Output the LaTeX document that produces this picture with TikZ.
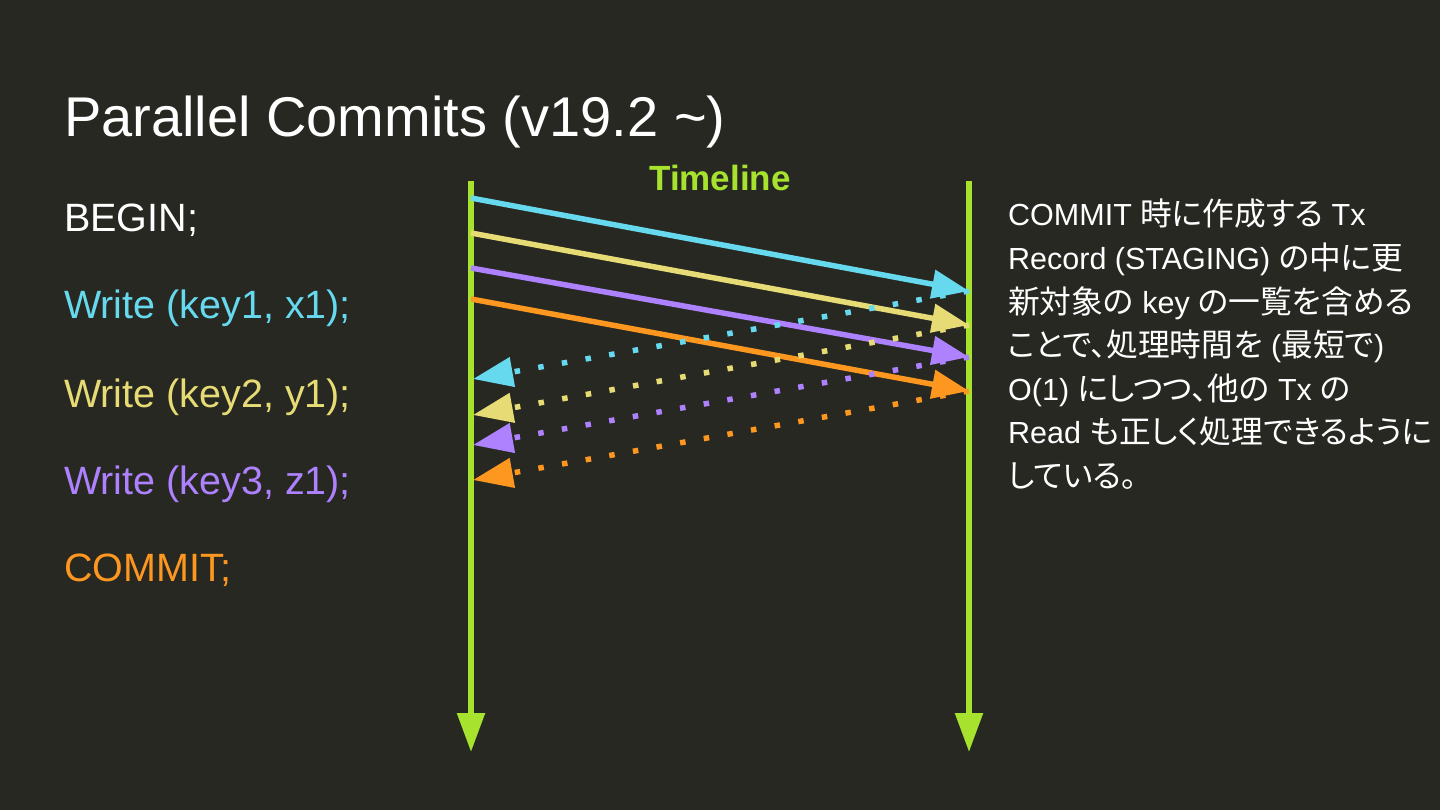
\documentclass[tikz,border=0pt]{standalone}
\usepackage{fontspec}
\setmainfont{Liberation Sans}
\newfontfamily\jp[Scale=1.04,RawFeature=+palt]{Noto Sans CJK JP}
\usetikzlibrary{arrows.meta}
\definecolor{bg}{HTML}{272822}
\definecolor{mcyan}{HTML}{66D9EF}
\definecolor{myellow}{HTML}{E6DB74}
\definecolor{mpurple}{HTML}{AE81FF}
\definecolor{morange}{HTML}{FD971F}
\definecolor{mgreen}{HTML}{A6E22E}
\begin{document}
\begin{tikzpicture}[x=1pt,y=-1pt,
  tl/.style={line width=5.5pt, draw=mgreen, -{Triangle[length=39pt,width=27pt]}},
  msg/.style={line width=5.5pt, -{Triangle[length=37pt,width=28pt]}},
  ack/.style={line width=5.5pt, dash pattern=on 5.5pt off 18.5pt, -{Triangle[length=40pt,width=29pt]}},
  lbl/.style={anchor=base west, inner sep=0pt, font=\fontsize{39.5}{47}\selectfont},
  rt/.style={anchor=base west, inner sep=0pt, text=white, font=\fontsize{30.5}{36}\selectfont}]
\fill[bg] (0,0) rectangle (1440,810);
\useasboundingbox (0,0) rectangle (1440,810);

% title
\node[anchor=base west, inner sep=0pt, text=white, font=\fontsize{56}{66}\selectfont] (title) at (64,137) {Parallel Commits (v19.2 \char`\~)};

% left statements
\node[lbl, text=white] (begin) at (64,232) {BEGIN;};
\node[lbl, text=mcyan] (w1) at (64,319) {Write (key1, x1);};
\node[lbl, text=myellow] (w2) at (64,407) {Write (key2, y1);};
\node[lbl, text=mpurple] (w3) at (64,494) {Write (key3, z1);};
\node[lbl, text=morange] (commit) at (64,581) {COMMIT;};

% timeline label
\node[anchor=base, inner sep=0pt, text=mgreen, font=\bfseries\fontsize{35}{42}\selectfont] (tlabel) at (720,191) {Timeline};

% timelines
\coordinate (LT) at (471,181);
\coordinate (LB) at (471,752);
\coordinate (RT) at (969,181);
\coordinate (RB) at (969,752);
\draw[tl] (LT) -- (LB);
\draw[tl] (RT) -- (RB);

% message points
\coordinate (L1) at (471,198);
\coordinate (L2) at (471,233);
\coordinate (L3) at (471,268);
\coordinate (L4) at (471,299);
\coordinate (R1) at (969,291);
\coordinate (R2) at (969,325);
\coordinate (R3) at (969,357);
\coordinate (R4) at (969,391);
\coordinate (B1) at (473,379);
\coordinate (B2) at (473,415);
\coordinate (B3) at (473,445);
\coordinate (B4) at (473,480);

\draw[msg, mcyan] (L1) -- (R1);
\draw[msg, myellow] (L2) -- (R2);
\draw[msg, mpurple] (L3) -- (R3);
\draw[msg, morange] (L4) -- (R4);

\draw[ack, mcyan] (R1) -- (B1);
\draw[ack, myellow] (R2) -- (B2);
\draw[ack, mpurple] (R3) -- (B3);
\draw[ack, morange] (R4) -- (B4);

% right explanation
\node[rt] (r1) at (1008,226) {COMMIT {\jp 時に作成する} Tx};
\node[rt] (r2) at (1008,269.5) {Record (STAGING) {\jp の中に更}};
\node[rt] (r3) at (1008,313) {{\jp 新対象の} key {\jp の一覧を含める}};
\node[rt] (r4) at (1008,356.5) {{\jp ことで、処理時間を} ({\jp 最短で})};
\node[rt] (r5) at (1008,400) {O(1) {\jp にしつつ、他の} Tx {\jp の}};
\node[rt] (r6) at (1008,443.5) {Read {\jp も正しく処理できるように}};
\node[rt] (r7) at (1008,487) {{\jp している。}};
\end{tikzpicture}
\end{document}
